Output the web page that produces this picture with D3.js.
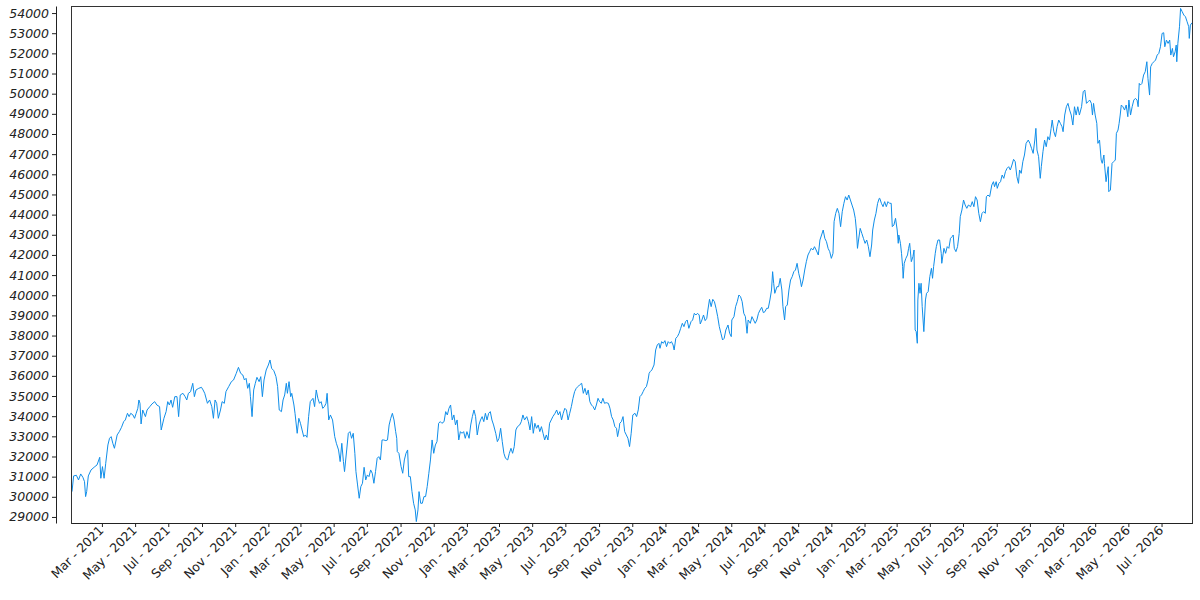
<!DOCTYPE html>
<html>
<head>
<meta charset="utf-8">
<script src="https://cdn.jsdelivr.net/npm/d3@7"></script>
<style>
  body { margin: 0; background: #fff; }
  svg { display: block; }
  .axis text { font-family: "DejaVu Sans", sans-serif; font-size: 12.5px; fill: #222; }
  .axis--y text { font-style: italic; }
  .axis path, .axis line { stroke: #222; }
  .frame { fill: none; stroke: #333; }
  .series { fill: none; stroke: #108ee9; stroke-width: 1; }
</style>
</head>
<body>
<script>
const width = 1200,
  height = 600,
  plot = { left: 71, right: 1192, top: 6, bottom: 523 },
  yAxisX = 56;

// trading days, counted in days from 2021-01-01
const startDate = new Date(2021, 0, 1);
const dayOffsets = [
  4,7,12,16,20,24,27,29,31,34,
  39,46,50,55,57,60,63,66,70,73,
  76,79,82,87,91,95,99,102,106,109,
  112,116,119,122,125,127,129,131,134,139,
  142,147,151,156,160,165,168,173,177,180,
  183,186,189,193,197,200,203,208,212,215,
  218,222,226,229,232,237,242,245,248,253,
  257,261,264,267,270,273,277,280,284,287,
  292,297,301,306,310,314,318,321,324,327,
  330,332,335,338,341,344,348,351,354,357,
  361,365,368,371,375,379,382,385,389,392,
  395,398,400,403,406,408,412,414,418,421,
  424,427,430,433,436,439,442,447,450,453,
  456,459,462,465,468,471,473,476,479,483,
  487,490,494,497,500,503,505,509,512,
  515,518,521,524,526,529,532,535,538,541,
  544,547,550,553,556,559,562,565,568,571,
  574,577,581,584,587,590,593,596,599,601,
  602,605,609,612,615,618,621,623,626,629,
  632,635,637,640,642,645,648,651,654,657,
  660,663,666,669,672,675,678,681,684,688,
  691,694,697,700,703,706,709,712,715,718,
  721,724,727,730,734,737,740,743,746,749,
  752,755,758,761,764,767,770,773,776,779,
  783,786,789,792,795,798,801,805,808,811,
  814,817,820,823,827,830,833,836,840,843,
  846,849,852,855,858,861,864,867,870,873,
  876,879,882,885,888,892,895,898,901,904,
  907,910,913,916,919,922,925,928,931,934,
  937,941,944,947,950,953,956,959,962,965,
  968,971,974,977,980,983,986,990,993,996,
  999,1002,1005,1007,1010,
  1011,1014,1017,1020,1023,1026,1029,1032,1035,1039,
  1042,1045,1048,1051,1054,1057,1060,1063,1065,1067,
  1070,1074,1077,1080,1083,1085,1088,1091,1094,1097,
  1100,1103,1106,1109,1111,1114,1117,1120,1123,1126,
  1129,1132,1135,1138,1142,1145,1148,1151,1154,1157,
  1159,1162,1165,1168,1171,1173,1176,1179,1182,1185,
  1188,1191,1194,1197,1200,1203,1206,1210,1213,1216,
  1217,1221,1224,1227,1230,1233,1236,1239,1242,1245,
  1247,1251,1254,1257,1260,1263,1266,1269,1272,1275,
  1278,1281,1284,1287,1290,1292,1294,1296,1300,1303,
  1306,1309,1311,1314,1316,1319,1322,1325,1328,1331,
  1334,1337,1340,1343,1345,1348,1351,1354,1357,1360,
  1363,1366,1369,1372,1376,1379,1382,1385,1388,1391,
  1394,1397,1400,1403,1405,1408,1411,1414,1417,1420,
  1423,1426,1429,1432,1435,1438,1441,1444,1446,1448,
  1450,1453,1456,1459,1462,1465,1468,1471,1474,1476,
  1479,1482,1485,1488,
  1489,1492,1495,1498,1501,1504,1507,1510,1512,1515,
  1518,1521,1523,1524,1527,1529,1531,1532,1534,1537,
  1540,1542,1544,1547,1550,1552,1554,1556,1558,1559,
  1561,1563,1565,1567,1570,1573,1575,1578,1581,1584,
  1586,1588,1591,1593,1596,1599,1602,1603,1607,1610,
  1613,1616,1619,1622,1624,1626,1629,1632,1635,1637,
  1640,1643,1646,1649,1652,1656,1659,1662,1665,1668,
  1671,1674,1677,1680,1683,1685,1688,1691,1695,1698,
  1700,1703,1705,1708,1711,1714,1717,1720,1723,1726,
  1729,1732,1735,1738,1741,1744,1746,1749,1752,1755,
  1758,1762,1765,1768,1771,1774,1776,1778,1781,1784,
  1786,1789,1792,1795,1798,1801,1804,1806,1809,1812,
  1815,1818,1821,1824,1826,1829,1832,1835,1838,1841,
  1844,1847,1850,1853,1856,1860,1863,1866,1869,1872,
  1875,1878,1880,1882,1885,1888,1890,1893,1896,1898,
  1901,1902,1905,1909,1910,1913,1916,1919,1922,1924,
  1927,1929,1931,1933,1936,1939,1942,1945,1947,1950,
  1953,1956,1959,1962,1964,1966,1968,1971,1974,1977,
  1980,1982,1985,1987,1990,1993,1996,1999,2002,2005,
  2008,2011,2013,2016,2019,2022,2024,2027,2029,2032,
  2034,2035,2037,2040,2042,2045,2048,2051,2054,2057,
  2058,2060,2063
];

// closing values, one per trading day above
const closeValues = [
  30258,31035,31068,30836,31134,30968,30754,30010,30258,31035,
  31332,31497,31580,31960,30919,31497,30919,31663,32572,32902,
  32985,32655,32407,33068,33233,33448,33729,33812,34142,33977,
  34142,34060,33894,34142,34390,34803,34638,33613,34307,33977,
  34307,34473,34605,34721,34555,34473,33316,33894,34225,34721,
  34555,34803,34440,34969,34969,33977,35051,35134,34969,34803,
  35134,35217,35630,34969,35300,35382,35432,35300,35134,34638,
  34803,34473,33894,34803,34638,33894,34307,34721,34638,35217,
  35465,35713,35795,36126,36423,36126,36043,35795,35878,35382,
  35630,34969,33977,35300,35630,35928,35713,35961,34969,35795,
  36291,36539,36787,36374,36258,35961,35465,34307,34225,34803,
  35051,35630,35134,35713,34969,35134,34555,34142,33150,33894,
  33646,33316,32985,33068,32952,33977,34721,34886,34473,35300,
  34886,34638,34721,34390,34473,34638,35134,33812,34060,33812,
  32985,32655,32324,31746,32655,31746,31250,32324,33150,
  33233,32902,33150,32158,31250,30588,29927,30506,30671,31464,
  30836,31084,31001,31332,31167,30671,31250,31910,31993,31828,
  32820,32820,32787,32820,33564,33894,34142,33812,33233,32902,
  32241,32158,31497,31167,31828,32158,32324,31001,31001,30258,
  29679,29349,28770,29349,30258,29679,29679,30010,30010,30506,
  31167,31828,32820,32158,32572,32737,33646,33729,33646,33729,
  34225,34060,34390,34555,33812,34060,33564,33812,32820,33233,
  33150,33233,32902,33233,32902,33564,33977,34307,33977,33068,
  33564,33812,33977,33729,34142,33812,34142,34225,33812,33564,
  33150,32737,32902,33399,32737,32158,31910,31828,32158,32406,
  32158,32489,33316,33481,33564,33729,34060,33812,33977,33729,
  33316,33977,33150,33646,33399,33564,33233,33481,33150,32820,
  33068,32820,33646,33812,33977,34142,34307,34060,34225,33812,
  34142,34390,34307,33812,34142,34473,34886,35217,35382,35465,
  35547,35630,35134,35382,35051,35300,34721,34555,34473,34307,
  34555,34886,34721,34638,34886,34638,34671,34638,34390,33977,
  33812,33481,33399,32985,33399,
  33648,33731,33979,33235,33070,32904,32491,33152,34061,34144,
  33979,34310,34971,35053,35219,35384,35467,35797,36128,36210,
  36293,36541,37285,37533,37615,37367,37698,37615,37748,37450,
  37698,37615,37698,37533,37285,37863,37946,38111,38359,38607,
  38442,38690,38772,38359,38690,38772,39103,39020,39103,39020,
  38574,38772,39020,38739,38855,39268,39797,39434,39797,39681,
  39351,38938,38442,38111,37780,37863,38276,38524,38111,37946,
  38772,38938,39434,39681,40012,39929,39681,39103,38938,38111,
  38772,38607,38938,38772,38607,38772,39103,39268,39401,39136,
  39186,39351,39351,39764,40260,41169,40591,40095,40425,40425,
  40839,40260,39434,38772,39434,39516,40260,40756,40921,41169,
  41252,41583,41087,40756,40425,40756,41252,41665,41996,42161,
  42326,42244,42409,42244,41996,42740,42988,43236,42822,42657,
  42326,42161,41830,42078,43649,44062,44310,44062,43401,44145,
  44558,44889,44723,44971,44723,44475,44227,43814,43236,42326,
  42740,43318,43070,42822,42574,42740,42409,41913,42492,43236,
  43731,44062,44558,44806,
  44808,44560,44394,44643,44394,44643,44560,44560,43402,43485,
  43816,43237,42576,42989,42576,42080,41419,40840,41584,41832,
  41997,42328,42576,41666,41915,42245,38278,38195,37617,39766,
  40593,40097,40593,39436,38195,39766,40097,40180,40924,41336,
  40840,41419,42080,42411,42741,42741,42080,41584,42328,42080,
  42411,42328,42824,42907,42989,42328,42163,42411,43072,43898,
  44229,44725,44477,44312,44477,44394,44643,44394,44890,44725,
  44064,43650,44064,44146,44064,44890,44973,44890,45469,45634,
  45386,45634,45304,45551,45634,45965,45800,46130,46296,46378,
  46213,46461,46742,46626,45882,45551,46213,46047,46626,46957,
  47535,47700,47535,47287,47039,47700,48279,47205,46874,45800,
  46378,47122,47700,47370,47866,47700,48279,48692,48114,47866,
  48362,48692,48527,48362,48114,48940,49353,49519,49188,48940,
  48444,49353,48940,49353,48940,49353,50097,50180,49519,49601,
  49684,49519,48940,49519,48940,48527,47535,47700,46709,46544,
  46957,46544,45634,46378,45138,45221,46544,46626,46709,48031,
  48196,48527,48940,49436,49353,49188,49436,48858,49684,48940,
  49353,49684,49767,49684,49353,50510,50428,50510,50924,51089,
  51585,50759,49932,51337,51502,51585,51668,51916,51998,52329,
  52990,53023,52329,52660,52494,52660,51916,52246,51833,52081,
  52412,51585,52494,53321,54230,54065,53899,53817,53569,53321,
  52742,53403,53519
];

const yTicks = [
  29000, 30000, 31000, 32000, 33000, 34000, 35000, 36000, 37000,
  38000, 39000, 40000, 41000, 42000, 43000, 44000, 45000, 46000,
  47000, 48000, 49000, 50000, 51000, 52000, 53000, 54000
];
const yDomain = [28700, 54350];

if (dayOffsets.length !== closeValues.length)
  console.error("length mismatch", dayOffsets.length, closeValues.length);

const data = dayOffsets.map((d, i) => ({
  date: d3.timeDay.offset(startDate, d),
  value: closeValues[i],
}));

const x = d3
  .scaleTime()
  .domain(d3.extent(data, (d) => d.date))
  .range([plot.left + 1, plot.right]);

const y = d3.scaleLinear().domain(yDomain).range([plot.bottom, plot.top]);

const svg = d3
  .select("body")
  .append("svg")
  .attr("width", width)
  .attr("height", height);

svg
  .append("clipPath")
  .attr("id", "plot-clip")
  .append("rect")
  .attr("x", plot.left)
  .attr("y", plot.top)
  .attr("width", plot.right - plot.left)
  .attr("height", plot.bottom - plot.top);

// Line
const line = d3
  .line()
  .x((d) => x(d.date))
  .y((d) => y(d.value));

svg
  .append("path")
  .datum(data)
  .attr("class", "series")
  .attr("clip-path", "url(#plot-clip)")
  .attr("d", line);

// Frame round the plot area
svg
  .append("rect")
  .attr("class", "frame")
  .attr("x", plot.left + 0.5)
  .attr("y", plot.top + 0.5)
  .attr("width", plot.right - plot.left)
  .attr("height", plot.bottom - plot.top);

// Y axis, set off to the left of the frame
svg
  .append("g")
  .attr("class", "axis axis--y")
  .attr("transform", `translate(${yAxisX},0)`)
  .call(
    d3
      .axisLeft(y)
      .tickValues(yTicks)
      .tickFormat(d3.format("d"))
      .tickSize(4)
      .tickSizeOuter(0)
      .tickPadding(3)
  );

// X axis, every second month
const xAxis = svg
  .append("g")
  .attr("class", "axis axis--x")
  .attr("transform", `translate(0,${plot.bottom})`)
  .call(
    d3
      .axisBottom(x)
      .ticks(d3.timeMonth.every(2))
      .tickFormat(d3.timeFormat("%b - %Y"))
      .tickSize(4)
      .tickSizeOuter(0)
  );

xAxis
  .selectAll(".tick text")
  .attr("y", 0)
  .attr("dy", 0)
  .attr("text-anchor", "end")
  .attr("transform", "translate(2,8) rotate(-45)");
</script>
</body>
</html>
